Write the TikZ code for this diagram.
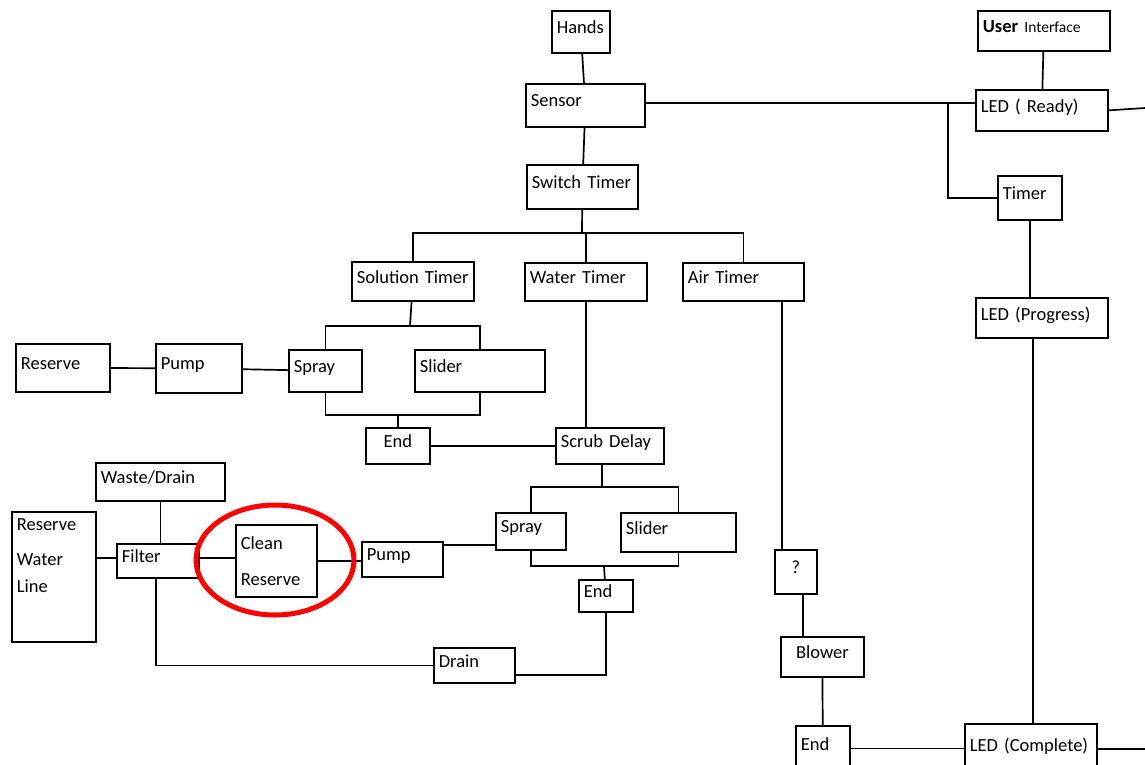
\documentclass[tikz,border=0pt]{standalone}
\usepackage{fontspec}
\setmainfont{Carlito}

\begin{document}
\begin{tikzpicture}[x=1pt, y=-1pt]

  \tikzstyle{tallbox}=[draw, line width=1.7pt, anchor=north west, align=left, inner sep=5pt, font=\fontsize{18.5}{22}\selectfont]
  \tikzstyle{box}=[tallbox, text depth=9pt]
  \tikzstyle{wire}=[line width=1.7pt]
  \tikzstyle{highlight}=[red, line width=5pt]

  \path[use as bounding box, fill=white] (0,0) rectangle (1145,764);

  % main column
  \node[box, text width=48pt, minimum height=42pt] (hands) at (551,10) {Hands};
  \node[box, text width=109pt, minimum height=43pt] (sensor) at (525,83) {Sensor};
  \node[box, text width=101pt, minimum height=44pt] (switch) at (526,164) {Switch Timer};
  \node[box, text width=112pt, minimum height=39pt] (soltimer) at (351,261) {Solution Timer};
  \node[box, text width=112pt, minimum height=38pt] (watertimer) at (524,262) {Water Timer};
  \node[box, text width=111pt, minimum height=38pt] (airtimer) at (682,262) {Air Timer};

  % solution branch
  \node[box, text width=84pt, minimum height=48pt] (reserve) at (15,343) {Reserve};
  \node[box, text width=76pt, minimum height=49pt] (pumpa) at (155,343) {Pump};
  \node[box, text width=63pt, minimum height=42pt] (spraya) at (288,349) {Spray};
  \node[box, text width=120pt, minimum height=42pt] (slidera) at (414,349) {Slider};
  \node[box, text width=54pt, minimum height=36pt, align=center] (enda) at (365,427) {End};
  \node[box, text width=98pt, minimum height=36pt] (scrub) at (555,427) {Scrub Delay};

  % water branch
  \node[box, text width=119pt, minimum height=38pt] (waste) at (95,462) {Waste/Drain};
  \node[tallbox, minimum width=84pt, minimum height=130pt] (rwl) at (11,511)
    {\parbox[c][120pt][t]{74pt}{\vspace{2pt}Reserve\\[13pt]Water\\[5pt]Line}};
  \node[box, text width=72pt, minimum height=34pt] (filter) at (116,543) {Filter};
  \node[tallbox, text width=71pt, minimum height=72pt] (clean) at (235,524) {Clean\\[14pt]Reserve};
  \node[box, text width=71pt, minimum height=35pt] (pumpb) at (361,541) {Pump};
  \node[box, text width=60pt, minimum height=37pt] (sprayb) at (495,512) {Spray};
  \node[box, text width=105pt, minimum height=39pt] (sliderb) at (620,512) {Slider};
  \node[box, text width=44pt, minimum height=30pt] (endb) at (578,579) {End};
  \node[box, text width=71pt, minimum height=35pt] (drain) at (433,647) {Drain};

  % air branch
  \node[box, text width=32pt, minimum height=44pt, align=center] (q) at (774,549) {?};
  \node[box, text width=73pt, minimum height=40pt, align=center] (blower) at (780,636) {Blower};
  \node[box, text width=44pt, minimum height=45pt] (endc) at (795,725) {End};

  % user interface side
  \node[box, text width=122pt, minimum height=40pt] (ui) at (977,10)
    {\textbf{User} {\fontsize{15.5}{18}\selectfont Interface}};
  \node[box, text width=122pt, minimum height=41pt] (ledready) at (975,89) {LED ( Ready)};
  \node[box, text width=54pt, minimum height=44pt] (timer) at (997,175) {Timer};
  \node[box, text width=122pt, minimum height=40pt] (ledprog) at (975,297) {LED (Progress)};
  \node[box, text width=122pt, minimum height=50pt] (ledcomp) at (964,723) {LED (Complete)};

  \coordinate (busa) at (582,233);
  \coordinate (busb) at (410,326);
  \coordinate (busc) at (398,415);
  \coordinate (busd) at (602,487);
  \coordinate (buse) at (604,566);
  \coordinate (split) at (948,103);
  \coordinate (outa) at (1145,108);
  \coordinate (outb) at (1145,746);

  % connectors
  \draw[wire] (hands) -- (sensor);
  \draw[wire] (sensor) -- (switch);
  \draw[wire] (switch) -- (busa);
  \draw[wire] (soltimer.north) |- (busa) -| (airtimer.north);
  \draw[wire] (watertimer.north) -- (watertimer.north |- busa);

  \draw[wire] (soltimer) -- (busb);
  \draw[wire] (spraya.north) |- (busb) -| (slidera.north);
  \draw[wire] (spraya.south) |- (busc) -| (slidera.south);
  \draw[wire] (busc) -- (enda);
  \draw[wire] (reserve) -- (pumpa);
  \draw[wire] (pumpa) -- (spraya);
  \draw[wire] (enda) -- (scrub);
  \draw[wire] (watertimer.south) -- (watertimer.south |- scrub.north);

  \draw[wire] (scrub.south -| busd) -- (busd);
  \draw[wire] (sprayb.north) |- (busd) -| (sliderb.north);
  \draw[wire] (sprayb.south) |- (buse) -| (sliderb.south);
  \draw[wire] (buse) -- (endb);
  \draw[wire] (endb.south) |- ([yshift=-9.5pt]drain.east);
  \draw[wire] ([yshift=-13.5pt]sprayb.west) -- ([yshift=-13.5pt]sprayb.west -| pumpb.east);
  \draw[wire] (clean.east) -- (clean.east -| pumpb.west);
  \draw[wire] ([yshift=3pt]filter.east) -- ([yshift=3pt]filter.east -| clean.west);
  \draw[wire] ([yshift=3pt]filter.west) -- ([yshift=3pt]filter.west -| rwl.east);
  \draw[wire] (waste.south) -- (waste.south |- filter.north);
  \draw[wire] ([xshift=-2pt]filter.south) |- (drain.west);

  \draw[wire] ([xshift=38.5pt]airtimer.south) -- ([xshift=38.5pt]airtimer.south |- q.north);
  \draw[wire] ([xshift=7pt]q.south) -- ([xshift=7pt]q.south |- blower.north);
  \draw[wire] (blower) -- (endc);
  \draw[wire] (endc.east) -- (endc.east -| ledcomp.west);
  \draw[wire] (ledcomp.east) -- (ledcomp.east -| outb);

  \draw[wire] (sensor.east |- split) -- (split -| ledready.west);
  \draw[wire] (split) |- (timer.west);
  \draw[wire] (ui) -- (ledready);
  \draw[wire] (ledready.east) -- (outa);
  \draw[wire] (timer.south) -- (timer.south |- ledprog.north);
  \draw[wire] ([xshift=-9pt]ledprog.south) -- ([xshift=-9pt]ledprog.south |- ledcomp.north);

  % highlight
  \draw[highlight] (275,560) ellipse [x radius=79pt, y radius=55pt];
\end{tikzpicture}
\end{document}
